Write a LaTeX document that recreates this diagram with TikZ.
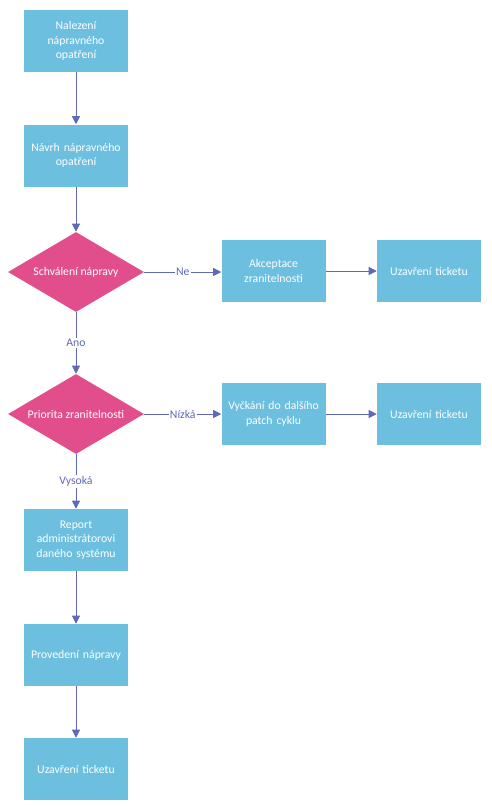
\documentclass[tikz,border=0pt]{standalone}
\usepackage{fontspec}
\setmainfont{Carlito}
\usetikzlibrary{shapes.geometric,arrows.meta}
\definecolor{boxblue}{RGB}{108,191,223}
\definecolor{decpink}{RGB}{226,78,140}
\definecolor{linkblue}{RGB}{96,104,184}
\tikzset{
  stepbox/.style={draw=none,fill=boxblue,text=white,minimum width=78pt,minimum height=46.5pt,inner sep=2pt,align=center,text width=72pt,font=\fontsize{8.8}{11}\selectfont},
  decision/.style={diamond,draw=none,fill=decpink,text=white,minimum width=102pt,minimum height=60pt,inner sep=0pt,aspect=3,font=\fontsize{8.8}{11}\selectfont},
  link/.style={draw=linkblue,line width=0.6pt,-{Triangle[length=6pt,width=6pt]}},
  linklabel/.style={fill=white,text=linkblue,inner sep=1pt,font=\fontsize{8.8}{11}\selectfont}
}
\begin{document}
\begin{tikzpicture}[x=0.75pt,y=0.75pt,yscale=-1,xscale=1]

\useasboundingbox (0,0) rectangle (492,807);

\node [stepbox] (find) at (76,41) {Nalezení\\nápravného\\opatření};
\node [stepbox] (proposal) at (76,155.5) {Návrh nápravného\\opatření};
\node [decision] (approve) at (76,272) {Schválení nápravy};
\node [stepbox] (accept) at (273.5,271) {Akceptace\\zranitelnosti};
\node [stepbox] (closeA) at (429,271) {Uzavření ticketu};
\node [decision] (priority) at (76,414) {Priorita zranitelnosti};
\node [stepbox] (wait) at (273.5,414) {Vyčkání do dalšího\\patch cyklu};
\node [stepbox] (closeB) at (429,414) {Uzavření ticketu};
\node [stepbox] (report) at (76,540) {Report\\administrátorovi\\daného systému};
\node [stepbox] (fix) at (76,655) {Provedení nápravy};
\node [stepbox] (closeC) at (76,769) {Uzavření ticketu};

\draw [link] (find) -- (proposal);
\draw [link] (proposal) -- (approve);
\draw [link] (approve.east) -- node [linklabel] {Ne} (accept.west |- approve.east);
\draw [link] (accept) -- (closeA);
\draw [link] (approve) -- node [linklabel] {Ano} (priority);
\draw [link] (priority) -- node [linklabel] {Nízká} (wait);
\draw [link] (wait) -- (closeB);
\draw [link] (priority) -- node [linklabel] {Vysoká} (report);
\draw [link] (report) -- (fix);
\draw [link] (fix) -- (closeC);

\end{tikzpicture}
\end{document}
